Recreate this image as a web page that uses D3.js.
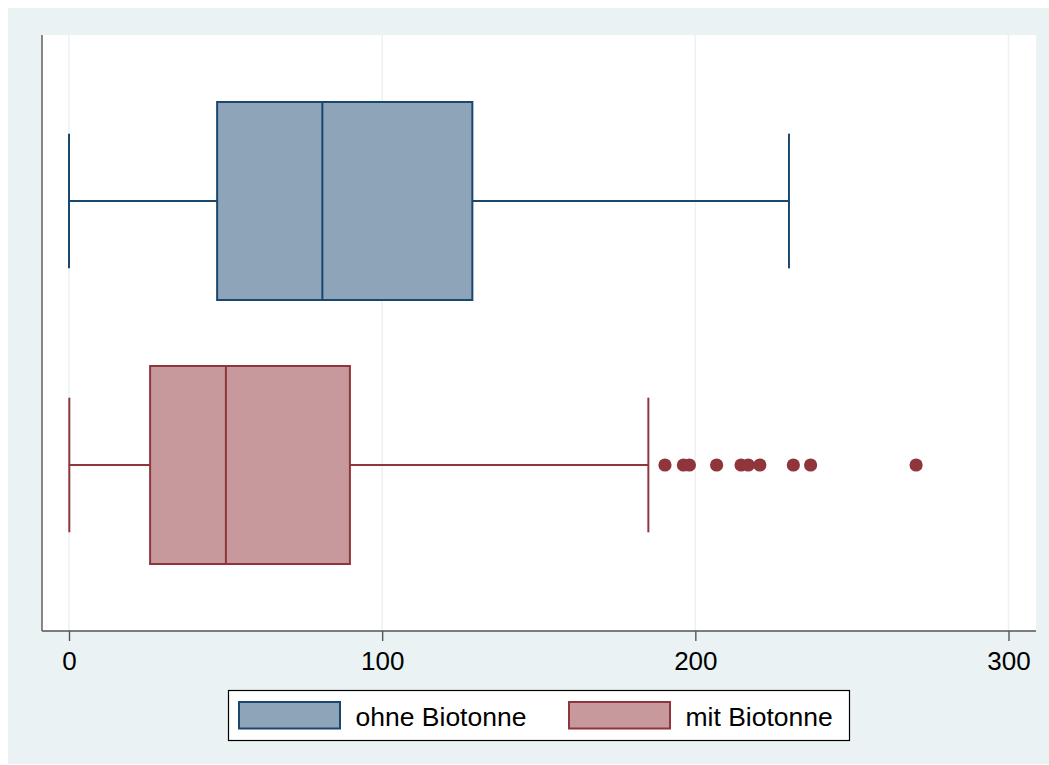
<!DOCTYPE html>
<html>
<head>
<meta charset="utf-8">
<script src="https://cdn.jsdelivr.net/npm/d3@7"></script>
<style>
  html, body { margin: 0; padding: 0; background: #ffffff; }
  svg { display: block; font-family: "Liberation Sans", Arial, Helvetica, sans-serif; }
</style>
</head>
<body>
<svg id="chart" width="1049" height="765"></svg>
<script>
// ---- data ----
const categories = ["ohne Biotonne", "mit Biotonne"];
const q1Values = [47.3, 25.9];
const medianValues = [80.9, 50.1];
const q3Values = [128.8, 89.7];
const whiskerLow = [0, 0.1];
const whiskerHigh = [229.9, 185.0];
const outlierValues = [
  [],
  [190.3, 196.2, 198.1, 206.8, 214.6, 216.9, 220.6, 231.3, 236.8, 270.5]
];
const xTicks = [0, 100, 200, 300];
const strokeColors = ["#1a476f", "#90353b"];
const fillColors = ["#8ea4b8", "#c8999c"];

const boxes = categories.map((c, i) => ({
  cat: c, q1: q1Values[i], med: medianValues[i], q3: q3Values[i],
  lo: whiskerLow[i], hi: whiskerHigh[i], out: outlierValues[i],
  stroke: strokeColors[i], fill: fillColors[i]
}));

// ---- layout ----
const svg = d3.select("#chart");
const plot = { left: 42, right: 1036, top: 35, bottom: 631 };

svg.append("rect").attr("x", 8).attr("y", 8).attr("width", 1041).attr("height", 756)
  .attr("fill", "#eaf2f3");
svg.append("rect").attr("x", plot.left).attr("y", plot.top)
  .attr("width", plot.right - plot.left).attr("height", plot.bottom - plot.top)
  .attr("fill", "#ffffff");

const x = d3.scaleLinear().domain([0, 300]).range([69, 1008.5]);
const y = d3.scaleBand().domain(categories).range([69, 597])
  .paddingInner(0.25).paddingOuter(0.125);

// gridlines
svg.append("g").selectAll("line").data(xTicks).join("line")
  .attr("x1", d => x(d)).attr("x2", d => x(d))
  .attr("y1", plot.top).attr("y2", plot.bottom)
  .attr("stroke", "#eaf2f3").attr("stroke-width", 1.5);

// boxes
const bw = y.bandwidth();
const capH = bw * 0.68;
const g = svg.append("g");
boxes.forEach(b => {
  const cy = y(b.cat) + bw / 2;
  // whiskers
  g.append("line").attr("x1", x(b.lo)).attr("x2", x(b.q1)).attr("y1", cy).attr("y2", cy)
    .attr("stroke", b.stroke).attr("stroke-width", 2);
  g.append("line").attr("x1", x(b.q3)).attr("x2", x(b.hi)).attr("y1", cy).attr("y2", cy)
    .attr("stroke", b.stroke).attr("stroke-width", 2);
  [b.lo, b.hi].forEach(v => {
    g.append("line").attr("x1", x(v)).attr("x2", x(v))
      .attr("y1", cy - capH / 2).attr("y2", cy + capH / 2)
      .attr("stroke", b.stroke).attr("stroke-width", 2);
  });
  // box
  g.append("rect").attr("x", x(b.q1)).attr("y", y(b.cat))
    .attr("width", x(b.q3) - x(b.q1)).attr("height", bw)
    .attr("fill", b.fill).attr("stroke", b.stroke).attr("stroke-width", 2);
  g.append("line").attr("x1", x(b.med)).attr("x2", x(b.med))
    .attr("y1", y(b.cat)).attr("y2", y(b.cat) + bw)
    .attr("stroke", b.stroke).attr("stroke-width", 2);
  // outliers
  g.selectAll(null).data(b.out).join("circle")
    .attr("cx", d => x(d)).attr("cy", cy).attr("r", 6.6)
    .attr("fill", b.stroke);
});

// axes
svg.append("line").attr("x1", plot.left).attr("x2", plot.left)
  .attr("y1", plot.top).attr("y2", plot.bottom)
  .attr("stroke", "#555555").attr("stroke-width", 1.4);
const xAxis = svg.append("g").attr("transform", `translate(0,${plot.bottom})`)
  .call(d3.axisBottom(x).tickValues(xTicks).tickSize(10).tickPadding(11).tickSizeOuter(0));
xAxis.select(".domain").attr("d", `M${plot.left},0H${plot.right}`)
  .attr("stroke", "#555555").attr("stroke-width", 1.4);
xAxis.selectAll(".tick line").attr("stroke", "#555555").attr("stroke-width", 1.4);
xAxis.selectAll(".tick text").attr("font-size", 26).attr("fill", "#000000")
  .attr("font-family", "'Liberation Sans', Arial, sans-serif");

// legend
const legend = svg.append("g");
legend.append("rect").attr("x", 228.5).attr("y", 690.5).attr("width", 621).attr("height", 50)
  .attr("fill", "#ffffff").attr("stroke", "#000000").attr("stroke-width", 1.2);
const legendX = [239, 569];
boxes.forEach((b, i) => {
  legend.append("rect").attr("x", legendX[i]).attr("y", 702).attr("width", 101).attr("height", 26.5)
    .attr("fill", b.fill).attr("stroke", b.stroke).attr("stroke-width", 2);
  legend.append("text").attr("x", legendX[i] + 116.5).attr("y", 726)
    .attr("font-size", 26.5).attr("fill", "#000000").text(b.cat);
});
</script>
</body>
</html>
